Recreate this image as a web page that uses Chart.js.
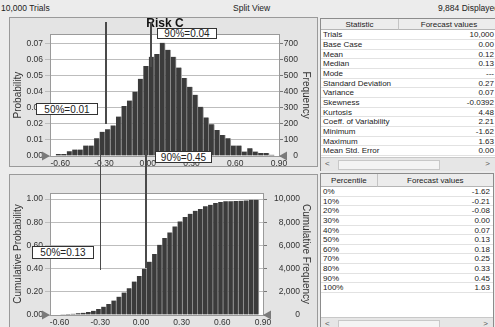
<!DOCTYPE html>
<html><head><meta charset="utf-8">
<script src="https://cdn.jsdelivr.net/npm/chart.js@4/dist/chart.umd.min.js"></script>
<style>
html,body{margin:0;padding:0;width:495px;height:327px;overflow:hidden;background:#ececec;font-family:"Liberation Sans",Arial,sans-serif;color:#222;}
.hdr{position:absolute;top:3px;font-size:8.5px;line-height:10px;white-space:nowrap;}
.panel{position:absolute;background:#e4e4e4;border:1px solid #9a9a9a;box-sizing:border-box;}
canvas{position:absolute;}
.tbl{position:absolute;background:#fff;border:1px solid #8c8c8c;box-sizing:border-box;overflow:hidden;}
.th{position:absolute;top:0;background:#ececec;border-bottom:1px solid #b5b5b5;font-size:8px;text-align:center;box-sizing:border-box;}
.row{position:absolute;left:0;right:0;border-bottom:1px solid #e2e2e2;font-size:8px;box-sizing:border-box;white-space:nowrap;}
.row .l{position:absolute;left:2px;}
.row .v{position:absolute;text-align:right;}
.sb{position:absolute;background:#e6e6e6;border-top:1px solid #c8c8c8;font-size:8px;color:#555;}
.ann{position:absolute;background:#fff;border:1px solid #333;font-size:10px;box-sizing:border-box;text-align:center;white-space:nowrap;z-index:5;}
.vl{position:absolute;width:1.6px;background:#4a4a4a;z-index:4;}
</style>
</head><body>
<div class="hdr" style="left:1px">10,000 Trials</div>
<div class="hdr" style="left:233px">Split View</div>
<div class="hdr" style="left:438px">9,884 Displayed</div>

<div class="panel" style="left:9px;top:17px;width:309px;height:150px"></div>
<div class="panel" style="left:9px;top:174px;width:309px;height:160px"></div>
<canvas id="c1" width="306" height="151" style="left:10px;top:17px"></canvas>
<canvas id="c2" width="306" height="152" style="left:10px;top:175px"></canvas>

<div class="tbl" id="t1" style="left:320px;top:18px;width:180px;height:153px"></div>
<div class="tbl" id="t2" style="left:320px;top:173px;width:174px;height:160px"></div>

<div class="ann" style="left:157px;top:28px;width:60px;height:11px;line-height:10px">90%=0.04</div>
<div class="ann" style="left:36px;top:103px;width:62px;height:12px;line-height:11px">50%=0.01</div>
<div class="ann" style="left:155px;top:151px;width:57px;height:12px;line-height:11px">90%=0.45</div>
<div class="ann" style="left:32px;top:246px;width:62px;height:13px;line-height:12px">50%=0.13</div>

<script>
// ---- data ----
const binCenters = [-0.6113,-0.5738,-0.5363,-0.4988,-0.4613,-0.4238,-0.3863,-0.3488,-0.3113,-0.2738,
  -0.2363,-0.1988,-0.1613,-0.1238,-0.0863,-0.0488,-0.0113,0.0262,0.0637,0.1012,
  0.1387,0.1762,0.2137,0.2512,0.2887,0.3262,0.3637,0.4012,0.4387,0.4762,
  0.5137,0.5512,0.5887,0.6262,0.6637,0.7012,0.7387,0.7762,0.8137,0.8512];
const probability = [0.0012,0.0012,0.0030,0.0040,0.0040,0.0065,0.0065,0.0110,0.0150,0.0166,
  0.0190,0.0245,0.0310,0.0345,0.0400,0.0480,0.0560,0.0617,0.0634,0.0704,
  0.0660,0.0617,0.0550,0.0485,0.0430,0.0380,0.0306,0.0240,0.0197,0.0162,
  0.0130,0.0110,0.0065,0.0065,0.0028,0.0048,0.0028,0.0018,0.0018,0.0008];
const cumulative = [0.004,0.006,0.008,0.011,0.015,0.019,0.026,0.037,0.052,0.072,
  0.095,0.124,0.158,0.193,0.230,0.288,0.337,0.398,0.460,0.527,
  0.605,0.663,0.712,0.764,0.807,0.844,0.873,0.899,0.914,0.937,
  0.951,0.965,0.974,0.980,0.980,0.982,0.985,0.988,0.993,0.994];
const xTicks = [-0.6,-0.3,0,0.3,0.6,0.9];
const probTicks = [0,0.01,0.02,0.03,0.04,0.05,0.06,0.07];
const freqTicks = [0,100,200,300,400,500,600,700];
const cumProbTicks = [0,0.2,0.4,0.6,0.8,1.0];
const cumFreqTicks = [0,2000,4000,6000,8000,10000];
const trials = 10000;
const chartTitle = 'Risk C';
const statLabels = ['Trials','Base Case','Mean','Median','Mode','Standard Deviation','Variance','Skewness','Kurtosis','Coeff. of Variability','Minimum','Maximum','Mean Std. Error'];
const statValues = ['10,000','0.00','0.12','0.13','---','0.27','0.07','-0.0392','4.48','2.21','-1.62','1.63','0.00'];
const pctLabels = ['0%','10%','20%','30%','40%','50%','60%','70%','80%','90%','100%'];
const pctValues = ['-1.62','-0.21','-0.08','0.00','0.07','0.13','0.18','0.25','0.33','0.45','1.63'];
// annotation marker lines in data space: [x, yStart, yEnd]
const topMarkers = [[-0.287,0.0832,0.0199],[0.023,0.0832,0.055]];
const bottomMarkers = [[-0.297,1.426,0.389],[0.036,1.426,0.405]];

const FONT = '"Liberation Sans", Arial, sans-serif';
const tickFont = {family:FONT,size:8.5};
const titleFont = {family:FONT,size:10};

const plotDeco = {
  id:'plotDeco',
  beforeDraw(c){
    const {ctx,chartArea:a}=c; ctx.save(); ctx.fillStyle='#ffffff';
    ctx.fillRect(a.left,a.top,a.right-a.left,a.bottom-a.top); ctx.restore();
  },
  afterDraw(c,args,opts){
    const {ctx,chartArea:a}=c; ctx.save();
    ctx.strokeStyle='#9a9a9a'; ctx.lineWidth=1;
    ctx.strokeRect(Math.round(a.left)+0.5,Math.round(a.top)+0.5,Math.round(a.right-a.left),Math.round(a.bottom-a.top));
    const y0=c.scales.y.getPixelForValue(0);
    ctx.fillStyle='#7a7a7a';
    ctx.beginPath(); ctx.moveTo(a.left-8,y0-4.5); ctx.lineTo(a.left,y0); ctx.lineTo(a.left-8,y0+4.5); ctx.closePath(); ctx.fill();
    ctx.beginPath(); ctx.moveTo(a.right+8,y0-4.5); ctx.lineTo(a.right,y0); ctx.lineTo(a.right+8,y0+4.5); ctx.closePath(); ctx.fill();
    if (opts.title){
      ctx.fillStyle='#111'; ctx.font='bold 12px '+FONT; ctx.textAlign='center'; ctx.textBaseline='middle';
      ctx.fillText(opts.title, opts.titleX, opts.titleY);
    }
    if (opts.rightTitle){
      ctx.translate(opts.rightTitleX,(a.top+a.bottom)/2);
      ctx.rotate(Math.PI/2);
      ctx.fillStyle='#333'; ctx.font='10px '+FONT; ctx.textAlign='center'; ctx.textBaseline='middle';
      ctx.fillText(opts.rightTitle,0,0);
    }
    ctx.restore();
  }
};

function setTicks(arr){ return s => { s.ticks = arr.map(v=>({value:v})); }; }

function makeChart(id, values, opts){
  return new Chart(document.getElementById(id), {
    type:'bar',
    data:{datasets:[{
      data: binCenters.map((x,i)=>({x:x,y:values[i]})),
      backgroundColor:'#3b3b3b', borderColor:'#a2a2a2',
      borderWidth:{left:0,right:1,top:0,bottom:0}, borderSkipped:false,
      barPercentage:1, categoryPercentage:1, yAxisID:'y'
    }]},
    options:{
      responsive:false, animation:false, events:[],
      layout:{padding:{top:opts.padTop,left:0,right:opts.padRight,bottom:0}},
      plugins:{legend:{display:false},tooltip:{enabled:false},title:{display:false},
        plotDeco:{rightTitle:opts.y2Title,rightTitleX:opts.rightTitleX,title:opts.title,titleX:155,titleY:7}},
      scales:{
        x:{type:'linear',min:-0.67,max:0.9,offset:false,
          afterBuildTicks:setTicks(xTicks),
          ticks:{callback:v=>v.toFixed(2),font:tickFont,color:'#333',padding:opts.xPad,maxRotation:0,autoSkip:false},
          grid:{display:false,drawTicks:false},border:{display:false},
          afterFit:s=>{s.height=12;}},
        y:{position:'left',min:0,max:opts.yMax,
          afterBuildTicks:setTicks(opts.yTicks),
          ticks:{callback:v=>v.toFixed(2),font:tickFont,color:'#333',padding:2},
          grid:{color:'#bdbdbd',tickLength:5,drawTicks:true},border:{display:false},
          title:{display:true,text:opts.yTitle,font:titleFont,color:'#333',padding:{top:2,bottom:0}},
          afterFit:s=>{s.width=40;}},
        y2:{position:'right',min:0,max:opts.yMax*trials,
          afterBuildTicks:setTicks(opts.y2Ticks),
          ticks:{callback:v=>v.toLocaleString('en-US'),font:tickFont,color:'#333',padding:1,crossAlign:'far'},
          grid:{drawOnChartArea:false,tickLength:4,color:'#777'},border:{display:false},
          afterFit:s=>{s.width=opts.rightW;}}
      }
    },
    plugins:[plotDeco]
  });
}

const ch1 = makeChart('c1', probability, {title:chartTitle,padTop:17.2,padRight:18,yMax:0.0757,yTicks:probTicks,y2Ticks:freqTicks,
  yTitle:'Probability',y2Title:'Frequency',rightW:19,rightTitleX:296,xPad:3});
const ch2 = makeChart('c2', cumulative, {title:null,padTop:18,padRight:16,yMax:1.052,yTicks:cumProbTicks,y2Ticks:cumFreqTicks,
  yTitle:'Cumulative Probability',y2Title:'Cumulative Frequency',rightW:37,rightTitleX:296,xPad:3});

function drawMarkers(chart, canvasId, list){
  const cv=document.getElementById(canvasId);
  const ox=cv.offsetLeft, oy=cv.offsetTop;
  list.forEach(m=>{
    const x=ox+chart.scales.x.getPixelForValue(m[0]);
    const y1=oy+chart.scales.y.getPixelForValue(m[1]);
    const y2=oy+chart.scales.y.getPixelForValue(m[2]);
    const d=document.createElement('div'); d.className='vl';
    d.style.left=(x-0.8)+'px'; d.style.top=Math.min(y1,y2)+'px'; d.style.height=Math.abs(y2-y1)+'px';
    document.body.appendChild(d);
  });
}
drawMarkers(ch1,'c1',topMarkers);
drawMarkers(ch2,'c2',bottomMarkers);

function buildTable(id, h1, h2, divX, labels, values, headH, rowTop, rowH, valRight){
  const t=document.getElementById(id);
  let html='<div class="th" style="left:0;width:'+divX+'px;height:'+headH+'px;line-height:'+headH+'px;border-right:1px solid #c4c4c4">'+h1+'</div>'+
    '<div class="th" style="left:'+divX+'px;right:0;height:'+headH+'px;line-height:'+headH+'px">'+h2+'</div>';
  labels.forEach((l,i)=>{
    html+='<div class="row" style="top:'+(rowTop+i*rowH)+'px;height:'+rowH+'px;line-height:'+rowH+'px"><span class="l">'+l+'</span><span class="v" style="right:'+valRight+'px">'+values[i]+'</span></div>';
  });
  t.innerHTML=html;
}
buildTable('t1','Statistic','Forecast values',78,statLabels,statValues,11,11.3,9.68,5);
buildTable('t2','Percentile','Forecast values',56.7,pctLabels,pctValues,13,13,9.63,3);

function scrollbar(top,w){
  const s=document.createElement('div'); s.className='sb';
  s.style.left='321px'; s.style.top=top+'px'; s.style.width=w+'px'; s.style.height='13px';
  s.innerHTML='<span style="position:absolute;left:4px;top:1px">&lt;</span>'+
   '<span style="position:absolute;left:17px;top:2px;width:100px;height:8px;background:#f4f4f4;border:1px solid #c8c8c8"></span>'+
   '<span style="position:absolute;right:5px;top:1px">&gt;</span>';
  document.body.appendChild(s);
}
scrollbar(157,174);
scrollbar(317,172);
</script>
</body></html>
